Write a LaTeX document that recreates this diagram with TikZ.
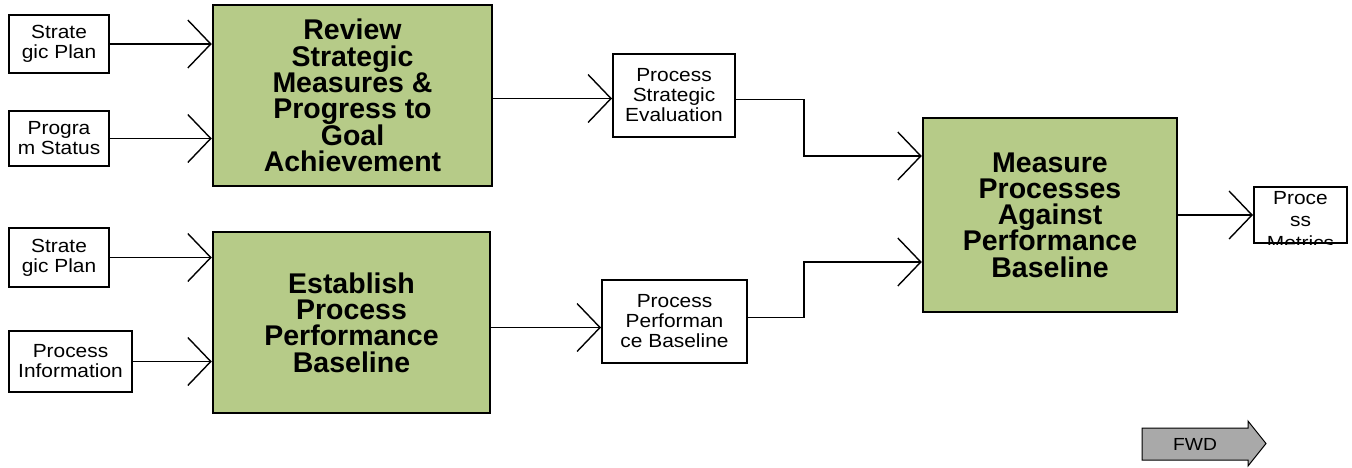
\documentclass[tikz,border=0pt]{standalone}
\usepackage{fontspec}
\setmainfont{Liberation Sans}
\newfontfamily\widesans{Liberation Sans}[FakeStretch=1.1]
\newcommand\tightlines{\lineskiplimit=-20pt\relax}
\usetikzlibrary{arrows.meta}
\definecolor{procgreen}{HTML}{B6CB88}
\definecolor{fwdgray}{HTML}{A9A9A9}
\begin{document}
\begin{tikzpicture}[x=1pt,y=-1pt,
	proc/.style={draw, line width=2.5pt, fill=procgreen, align=center, inner sep=0pt,
		font=\bfseries\fontsize{28.5}{26.3}\selectfont\tightlines},
	data/.style={draw, line width=2pt, fill=white, align=center, inner sep=0pt,
		font=\widesans\fontsize{19}{20}\selectfont\tightlines},
	flow/.style={line width=1.4pt, -{Straight Barb[length=23pt,width=48pt,line width=1.4pt]}}]
	\useasboundingbox (0,0) rectangle (1352,467);
	% inputs
	\node[data, minimum width=100, minimum height=58] (SP) at (59,44) {Strate\\gic Plan};
	\node[data, minimum width=100, minimum height=55] (PS) at (59,138.5) {Progra\\m Status};
	\node[data, minimum width=100, minimum height=59] (SPb) at (59,257.5) {Strate\\gic Plan};
	\node[data, minimum width=123, minimum height=61] (PI) at (70.5,361.5) {Process\\Information};
	% activities
	\node[proc, minimum width=279, minimum height=181] (R) at (352.5,95.5) {Review\\Strategic\\Measures \&\\Progress to\\Goal\\Achievement};
	\node[proc, minimum width=277, minimum height=181] (E) at (351.5,322.5) {Establish\\Process\\Performance\\Baseline};
	\node[proc, minimum width=254, minimum height=194] (M) at (1050,215) {Measure\\Processes\\Against\\Performance\\Baseline};
	% outputs
	\node[data, minimum width=122, minimum height=83] (PSE) at (674,95.5) {Process\\Strategic\\Evaluation};
	\node[data, minimum width=145, minimum height=83] (PPB) at (674.5,321.5) {Process\\Performan\\ce Baseline};
	\node[data, minimum width=93, minimum height=56] (PM) at (1300.5,215) {};
	\begin{scope}
		\clip (PM.north west) rectangle (PM.south east);
		\node[align=center, inner sep=0pt, anchor=north,
			font=\widesans\fontsize{19}{22.5}\selectfont\tightlines] (PMtext)
			at ([yshift=-5pt]PM.north) {Proce\\ss\\Metrics};
	\end{scope}
	\draw[flow] (SP) -- (SP -| R.west);
	\draw[flow] (PS) -- (PS -| R.west);
	\draw[flow] (SPb) -- (SPb -| E.west);
	\draw[flow] (PI) -- (PI -| E.west);
	\draw[flow] ([yshift=-3pt]R.east) -- ([yshift=-3pt]PSE.west);
	\draw[flow] ([yshift=-5pt]E.east) -- ([yshift=-5pt]E.east -| PPB.west);
	\draw[flow] ([yshift=-4pt]PSE.east) -- ++(68,0) |- ([yshift=59pt]M.west);
	\draw[flow] ([yshift=4pt]PPB.east) -- ++(56,0) |- ([yshift=-47pt]M.west);
	\draw[flow] (M) -- (PM);
	% forward button
	\draw[line width=1pt, fill=fwdgray] (1142,428) -- (1248,428) -- (1248,421) -- (1266,443.5)
		-- (1248,466) -- (1248,460) -- (1142,460) -- cycle;
	\node[font=\widesans\fontsize{17.5}{17.5}\selectfont] (FWD) at (1195,444) {FWD};
\end{tikzpicture}
\end{document}
